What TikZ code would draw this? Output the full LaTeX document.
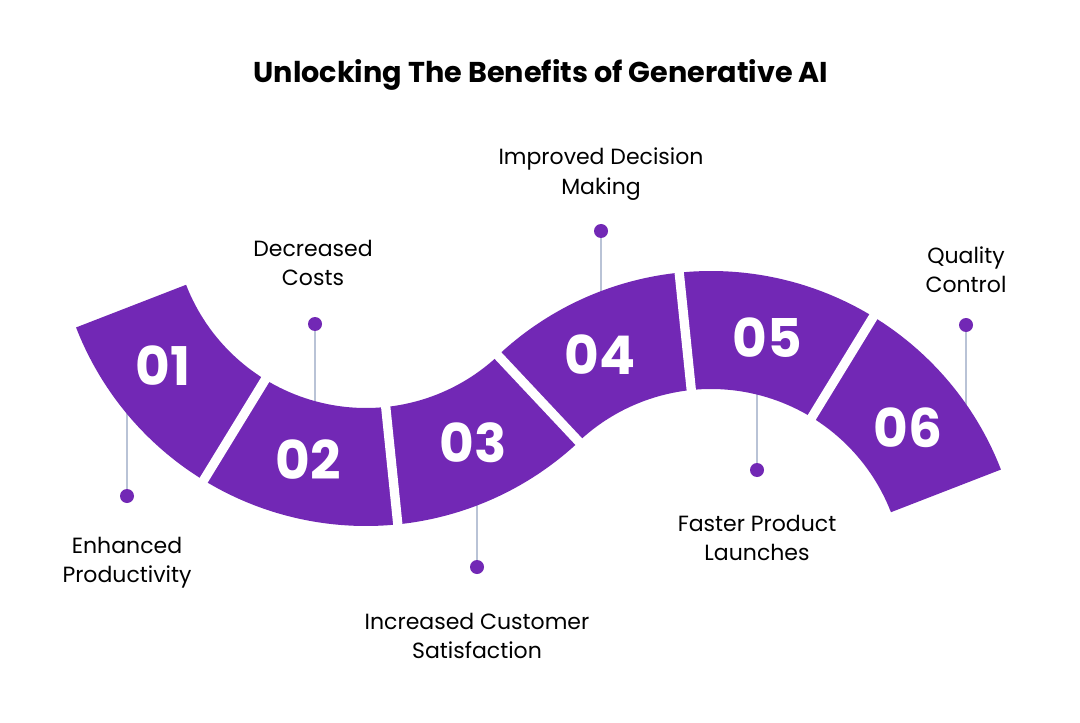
\documentclass[tikz,border=0pt]{standalone}
\usepackage{fontspec}
\setmainfont{Poppins}
\usetikzlibrary{calc}
\definecolor{bandpurple}{HTML}{7228B5}
\definecolor{linegrey}{HTML}{B9C3D6}
\begin{document}
\begin{tikzpicture}[x=0.75pt,y=0.75pt,
  num/.style={text=white,font=\fontsize{40}{40}\selectfont\bfseries},
  lbl/.style={align=center,font=\fontsize{16.5}{22}\selectfont,text=black},
  dot/.style={circle,fill=bandpurple,inner sep=0pt,minimum size=10.5pt},
  conn/.style={draw=linegrey,line width=1.1pt},
  gap/.style={draw=white,line width=7pt}]
\useasboundingbox[fill=white] (0,0) rectangle (1080,722);
\node[font=\fontsize{21.5}{26}\selectfont\bfseries] (title) at (541,647) {Unlocking The Benefits of Generative AI};
\coordinate (c1) at (366,507);
\coordinate (c2) at (711,140);
\def\ri{144.75pt}\def\ro{233.25pt}
% connectors (behind band)
\node[dot] (d1) at (127,226) {};
\coordinate (e1) at (127,310);
\draw[conn] (d1) -- (e1);
\node[dot] (d2) at (315,398) {};
\coordinate (e2) at (315,320);
\draw[conn] (d2) -- (e2);
\node[dot] (d3) at (477,155) {};
\coordinate (e3) at (477,225);
\draw[conn] (d3) -- (e3);
\node[dot] (d4) at (601,491) {};
\coordinate (e4) at (601,420);
\draw[conn] (d4) -- (e4);
\node[dot] (d5) at (757,252) {};
\coordinate (e5) at (757,335);
\draw[conn] (d5) -- (e5);
\node[dot] (d6) at (966,397) {};
\coordinate (e6) at (966,315);
\draw[conn] (d6) -- (e6);
% band
\fill[bandpurple] ($(c1)+(201.2:\ro)$) arc[start angle=201.2,end angle=313.2,radius=\ro]
  -- ($(c1)+(313.2:\ri)$) arc[start angle=313.2,end angle=201.2,radius=\ri] -- cycle;
\fill[bandpurple] ($(c2)+(133.2:\ri)$) arc[start angle=133.2,end angle=21.2,radius=\ri]
  -- ($(c2)+(21.2:\ro)$) arc[start angle=21.2,end angle=133.2,radius=\ro] -- cycle;
\draw[gap] ($(c1)+(238.53:135pt)$) -- ($(c1)+(238.53:245pt)$);
\draw[gap] ($(c1)+(275.87:135pt)$) -- ($(c1)+(275.87:245pt)$);
\draw[gap] ($(c1)+(313.2:135pt)$) -- ($(c1)+(313.2:390pt)$);
\draw[gap] ($(c2)+(95.87:135pt)$) -- ($(c2)+(95.87:245pt)$);
\draw[gap] ($(c2)+(58.53:135pt)$) -- ($(c2)+(58.53:245pt)$);
% numbers
\node[num] (n1) at (163,356) {01};
\node[num] (n2) at (308,262) {02};
\node[num] (n3) at (473,279) {03};
\node[num] (n4) at (600,367) {04};
\node[num] (n5) at (767,384) {05};
\node[num] (n6) at (908,294) {06};
% labels
\node[lbl] (l1) at (127,159) {Enhanced\\Productivity};
\node[lbl] (l2) at (313,459) {Decreased\\Costs};
\node[lbl] (l3) at (477,86) {Increased Customer\\Satisfaction};
\node[lbl] (l4) at (601,548) {Improved Decision\\Making};
\node[lbl] (l5) at (757,184) {Faster Product\\Launches};
\node[lbl] (l6) at (966,452) {Quality\\Control};
\end{tikzpicture}
\end{document}
